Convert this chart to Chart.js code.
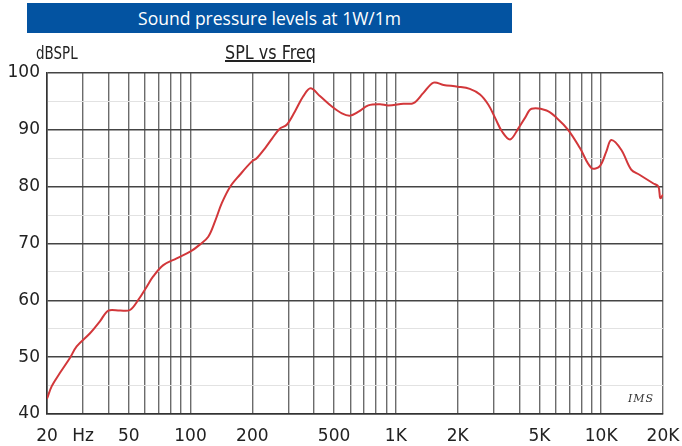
<!DOCTYPE html>
<html>
<head>
<meta charset="utf-8">
<script src="https://cdn.jsdelivr.net/npm/chart.js@4/dist/chart.umd.min.js"></script>
<style>
  html, body { margin:0; padding:0; background:#fff; }
  #wrap { position:relative; width:682px; height:446px; overflow:hidden; }
  #c { position:absolute; left:0; top:0; }
  .txt { position:absolute; white-space:nowrap; }
  #banner { left:27px; top:3px; width:485px; height:30px; background:#0353a1; color:#fff;
            font-family:"Open Sans", sans-serif; font-size:17.5px; line-height:30px; text-align:center; }
  #unit { left:36px; top:43px; font-family:"DejaVu Sans",sans-serif; font-size:17px; color:#222;
          transform:scaleX(0.79); transform-origin:0 0; }
  #sub { left:225px; top:40px; font-family:"DejaVu Sans",sans-serif; font-size:20px; color:#222;
         text-decoration:underline; transform:scaleX(0.8); transform-origin:0 0; }
  #ims { left:628px; top:392px; font-family:"DejaVu Serif",serif; font-style:italic; font-size:11px; color:#333; letter-spacing:1px; }
</style>
</head>
<body>
<div id="wrap">
  <canvas id="c" width="682" height="446"></canvas>
  <div class="txt" id="banner">Sound pressure levels at 1W/1m</div>
  <div class="txt" id="unit">dBSPL</div>
  <div class="txt" id="sub">SPL vs Freq</div>
  <div class="txt" id="ims">IMS</div>
</div>
<script>
const freqHz = [20, 21.1, 23.1, 25.9, 27.9, 32.4, 36.2, 39.8, 45.4, 50.7, 55.7, 61.2, 65.8, 73.7, 85.6,
  100, 111, 122, 131.6, 142, 156, 174, 198.6, 210, 231, 250, 272, 294, 322, 354, 384, 428, 488, 546, 599,
  658, 734, 838, 918, 1088, 1218, 1362, 1526, 1706, 2000, 2292, 2570, 2822, 3043, 3290, 3600, 3956, 4256,
  4580, 5420, 6070, 6900, 7880, 8960, 9840, 10600, 11200, 12520, 14000, 15360, 17880, 19000, 19400, 20000];
const splDb = [42.7, 44.9, 47.2, 49.9, 51.9, 54.2, 56.3, 58.2, 58.2, 58.3, 60.1, 62.4, 64.2, 66.2, 67.4,
  68.6, 69.8, 71.2, 73.9, 77.1, 80.0, 82.1, 84.4, 85.0, 86.8, 88.5, 90.2, 90.9, 93.2, 95.9, 97.3, 95.9, 94.1, 92.9, 92.5,
  93.2, 94.3, 94.5, 94.3, 94.6, 94.7, 96.5, 98.3, 97.9, 97.6, 97.2, 96.2, 94.4, 92.1, 89.7, 88.3, 90.3, 92.1,
  93.7, 93.4, 92.1, 90.0, 86.8, 83.3, 83.6, 86.2, 88.2, 86.5, 83.0, 82.1, 80.6, 80.0, 78.0, 78.6];

const xGridValues = [20, 30, 40, 50, 60, 70, 80, 90, 100, 200, 300, 400, 500, 600, 700, 800, 900,
  1000, 2000, 3000, 4000, 5000, 6000, 7000, 8000, 9000, 10000, 20000];
const xLabelValues = [20, 30, 50, 100, 200, 500, 1000, 2000, 5000, 10000, 20000];
const xLabelTexts  = ["20", "Hz", "50", "100", "200", "500", "1K", "2K", "5K", "10K", "20K"];
const yMin = 40, yMax = 100, yStep = 5;

const points = freqHz.map((f, i) => ({ x: f, y: splDb[i] }));

new Chart(document.getElementById('c'), {
  type: 'scatter',
  data: { datasets: [{
    data: points, showLine: true, borderColor: '#d2373a', borderWidth: 2,
    pointRadius: 0, tension: 0.35, fill: false
  }]},
  options: {
    responsive: false, animation: false, devicePixelRatio: 1,
    layout: { padding: { left: 0, right: 19, top: 73, bottom: 0 } },
    plugins: { legend: { display: false }, tooltip: { enabled: false } },
    scales: {
      x: {
        type: 'logarithmic', min: 20, max: 20000,
        afterBuildTicks: s => { s.ticks = xGridValues.map(v => ({ value: v })); },
        afterFit: s => { s.height = 32; s.paddingLeft = 0; s.paddingRight = 0; },
        ticks: {
          autoSkip: false, maxRotation: 0, minRotation: 0, padding: 12, color: '#222',
          font: { family: 'DejaVu Sans', size: 17 },
          callback: v => { const i = xLabelValues.indexOf(v); return i >= 0 ? xLabelTexts[i] : ''; }
        },
        grid: { color: '#6b6b6b', lineWidth: 1.4, drawTicks: false },
        border: { color: '#333', width: 1.6 }
      },
      y: {
        min: yMin, max: yMax,
        afterFit: s => { s.width = 47; },
        ticks: {
          stepSize: yStep, padding: 7, color: '#222',
          font: { family: 'DejaVu Sans', size: 17 },
          callback: v => (v % 10 === 0 ? String(v) : '')
        },
        grid: {
          drawTicks: false,
          color: c => (c.tick && c.tick.value % 10 === 0 ? '#444' : '#e2e2e2'),
          lineWidth: c => (c.tick && c.tick.value % 10 === 0 ? 1.4 : 1)
        },
        border: { color: '#333', width: 1.6 }
      }
    }
  }
});
</script>
</body>
</html>
